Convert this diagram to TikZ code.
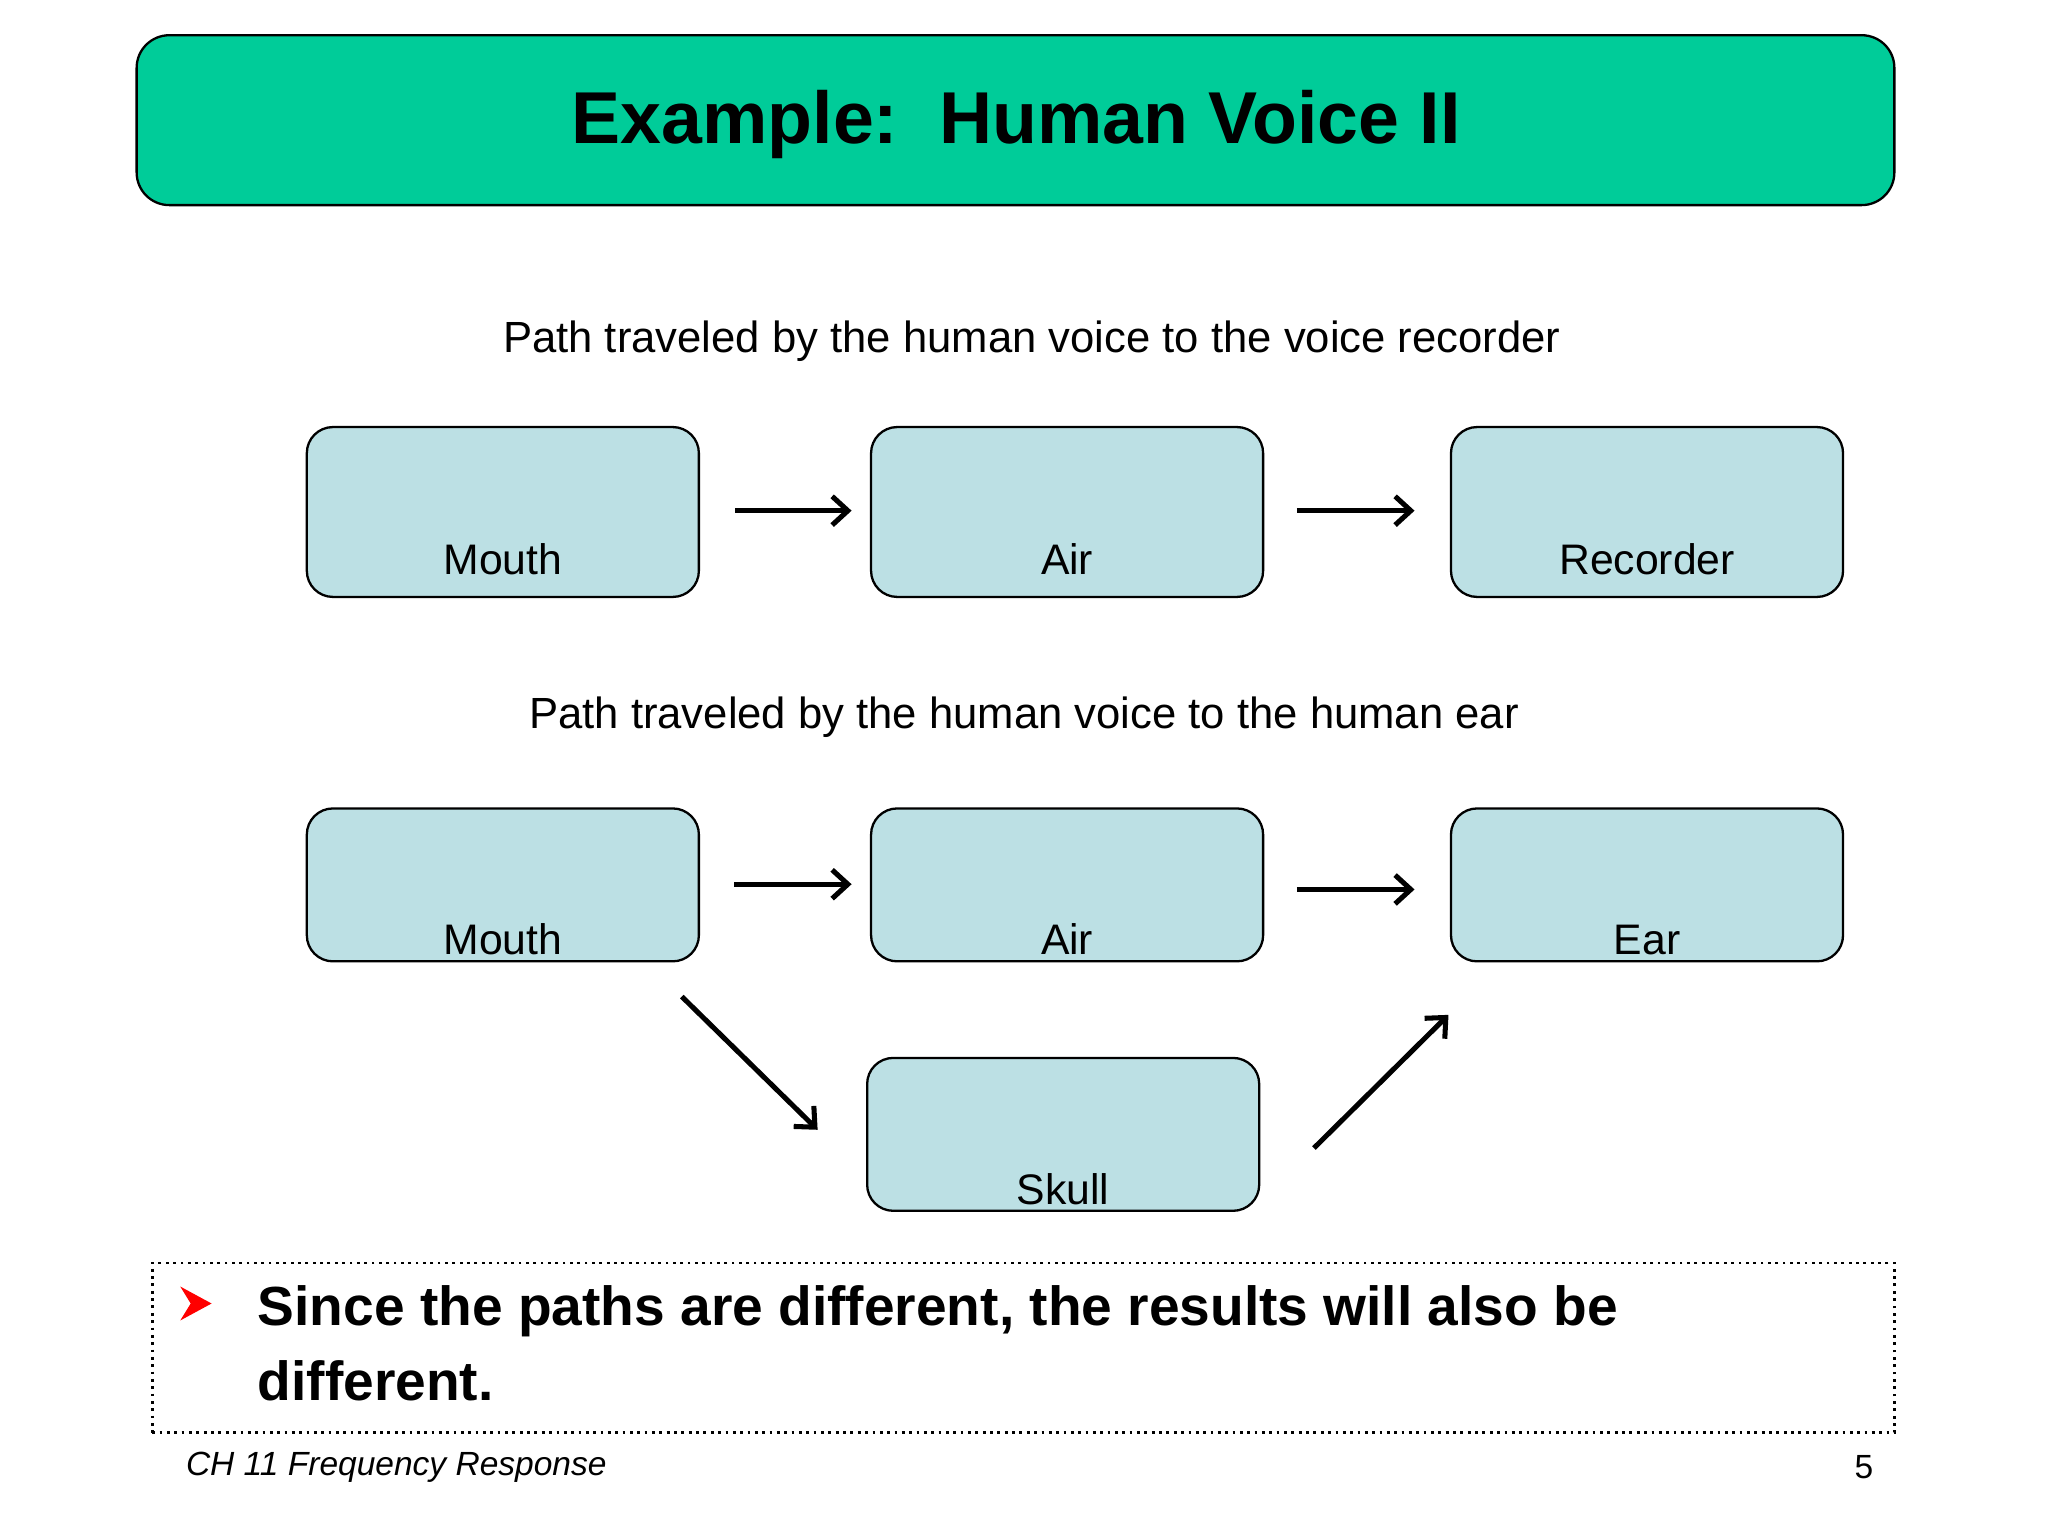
\documentclass[tikz,border=0pt]{standalone}
\usepackage{fontspec}
\setmainfont{Liberation Sans}
\usetikzlibrary{arrows.meta}
\definecolor{titlegreen}{RGB}{0,204,153}
\definecolor{boxblue}{RGB}{188,224,228}
\tikzset{
  box/.style={draw=black,fill=boxblue,rounded corners=0.2cm,minimum width=3cm,minimum height=#1,inner sep=0pt,line width=0.5pt},
  lab/.style={font=\fontsize{9.3}{11}\selectfont,anchor=base},
  arr/.style={-{Straight Barb[length=1.2mm,width=2.2mm]},line width=1.1pt}
}
\begin{document}
\begin{tikzpicture}[x=0.01cm,y=-0.01cm]
\useasboundingbox (0,0) rectangle (1568,1176);
\node[draw=black,fill=titlegreen,rounded corners=0.25cm,minimum width=13.45cm,minimum height=1.3cm,line width=0.5pt] (title) at (777.5,92) {};
\node[font=\fontsize{16}{18}\bfseries\selectfont] (tt) at (778,95) {Example:\ \ Human Voice II};
\node[font=\fontsize{9.5}{11}\selectfont] (s1) at (790,261) {Path traveled by the human voice to the voice recorder};
\node[box=1.3cm] (m1) at (385,392) {};
\node[box=1.3cm] (a1) at (817,392) {};
\node[box=1.3cm] (r1) at (1261,392) {};
\node[lab] at (385,440) {Mouth};
\node[lab] at (817,440) {Air};
\node[lab] at (1261,440) {Recorder};
\draw[arr] (m1.east|-0,391) ++(27,0) coordinate (p1) -- (652,391) coordinate (p2);
\draw[arr] (993,391) coordinate (p3) -- (1083,391) coordinate (p4);
\node[font=\fontsize{9.5}{11}\selectfont] (s2) at (784,549) {Path traveled by the human voice to the human ear};
\node[box=1.17cm] (m2) at (385,677.5) {};
\node[box=1.17cm] (a2) at (817,677.5) {};
\node[box=1.17cm] (e2) at (1261,677.5) {};
\node[box=1.17cm] (sk) at (814,868.5) {};
\node[lab] at (385,731) {Mouth};
\node[lab] at (817,731) {Air};
\node[lab] at (1261,731) {Ear};
\node[lab] at (814,922) {Skull};
\coordinate (q1) at (562,677); \coordinate (q2) at (652,677);
\coordinate (q3) at (993,681); \coordinate (q4) at (1083,681);
\coordinate (d1) at (522,763); \coordinate (d2) at (626,865);
\coordinate (d3) at (1006,879); \coordinate (d4) at (1109,777);
\draw[arr] (q1) -- (q2);
\draw[arr] (q3) -- (q4);
\draw[arr] (d1) -- (d2);
\draw[arr] (d3) -- (d4);
\node[draw=black,densely dotted,line width=0.6pt,minimum width=13.33cm,minimum height=1.3cm] (note) at (783.5,1032) {};
\fill[red] (138,985) -- (162,998) -- (138,1011) -- (146,998) -- cycle;
\node[anchor=west,font=\fontsize{12}{14}\bfseries\selectfont] at (185,1004) {Since the paths are different, the results will also be};
\node[anchor=west,font=\fontsize{12}{14}\bfseries\selectfont] at (185,1057) {different.};
\node[anchor=west,font=\fontsize{7.3}{9}\itshape\selectfont] at (130,1123) {CH 11 Frequency Response};
\node[font=\fontsize{7.3}{9}\selectfont] at (1427,1123) {5};
\end{tikzpicture}
\end{document}
